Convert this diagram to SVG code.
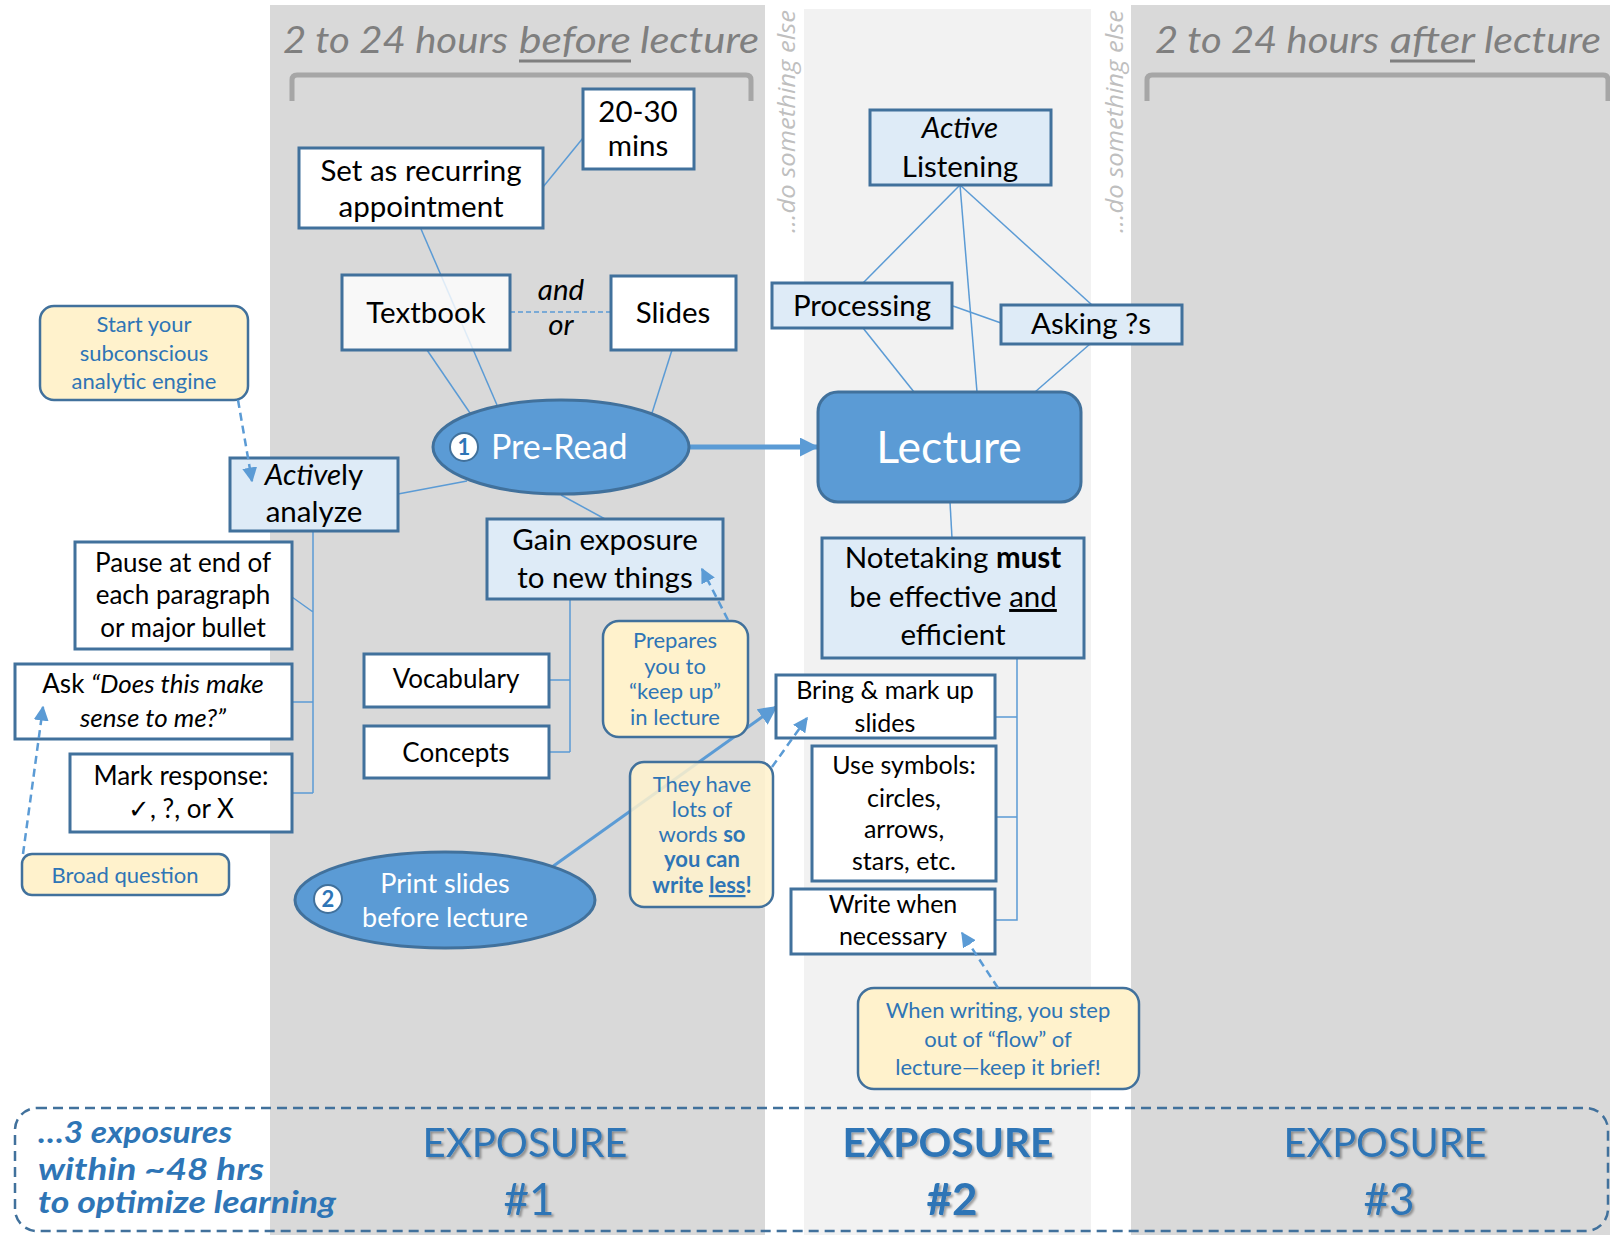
<svg xmlns="http://www.w3.org/2000/svg" width="1610" height="1235" viewBox="0 0 1610 1235">
<defs>
<style>
text{font-family:Lato,"Liberation Sans",sans-serif;}
.box{stroke:#41719c;stroke-width:3;}
.w{fill:#ffffff}
.lb{fill:#deebf7}
.note{fill:#fff2cc;stroke:#41719c;stroke-width:2.5}
.t{font-size:29.5px;fill:#000;text-anchor:middle}
.s{font-size:26px;fill:#000;text-anchor:middle}
.k{font-size:25px;fill:#000;text-anchor:middle}
.nt{font-size:22px;fill:#2e75b6;text-anchor:middle}
.ln{stroke:#5b9bd5;stroke-width:1.5;fill:none}
.dash{stroke:#5b9bd5;stroke-width:2.5;stroke-dasharray:8 5;fill:none}
.hdr{font-size:36px;font-style:italic;fill:#7f7f7f}
.side{font-family:"Open Sans",sans-serif;font-size:24px;font-style:italic;fill:#bfbfbf}
.exp{font-size:40px;fill:#2e75b6;text-anchor:middle}
.hash{font-size:44px;fill:#2e75b6;text-anchor:middle}
.bubble{fill:#5b9bd5;stroke:#41719c;stroke-width:3}
.wt{fill:#fff;text-anchor:middle}
.num{fill:#fff;stroke:#41719c;stroke-width:2}
.numt{font-size:22px;font-weight:bold;fill:#2e75b6;text-anchor:middle}
.hand{font-size:30px;font-style:italic;font-weight:bold;fill:#2e75b6}
</style>
<marker id="ah" viewBox="0 0 10 10" refX="9" refY="5" markerUnits="userSpaceOnUse" markerWidth="15" markerHeight="15" orient="auto">
<path d="M0,0 L10,5 L0,10 z" fill="#5b9bd5"/>
</marker>
<marker id="ahb" viewBox="0 0 10 10" refX="9" refY="5" markerUnits="userSpaceOnUse" markerWidth="19" markerHeight="19" orient="auto">
<path d="M0,0 L10,5 L0,10 z" fill="#5b9bd5"/>
</marker>
<filter id="shadow" x="-10%" y="-20%" width="130%" height="150%">
<feDropShadow dx="2" dy="2" stdDeviation="1.2" flood-color="#000" flood-opacity="0.35"/>
</filter>
</defs>

<!-- time bands -->
<g id="bands">
<rect x="270" y="5" width="495" height="1230" fill="#d9d9d9"/>
<rect x="804" y="9" width="287" height="1226" fill="#f2f2f2"/>
<rect x="1131" y="5" width="479" height="1230" fill="#d9d9d9"/>
<text class="side" transform="translate(795,233) rotate(-90)" textLength="223" lengthAdjust="spacingAndGlyphs">…do something else</text>
<text class="side" transform="translate(1123,233) rotate(-90)" textLength="223" lengthAdjust="spacingAndGlyphs">…do something else</text>
</g>

<!-- period headers -->
<g id="headers">
<text class="hdr" x="283" y="53" textLength="225" lengthAdjust="spacingAndGlyphs">2 to 24 hours</text>
<text class="hdr" x="519" y="53" textLength="112" lengthAdjust="spacingAndGlyphs">before</text>
<text class="hdr" x="640" y="53" textLength="119" lengthAdjust="spacingAndGlyphs">lecture</text>
<line x1="519" y1="61" x2="631" y2="61" stroke="#7f7f7f" stroke-width="3"/>
<path d="M292,101 V80 Q292,75 297,75 H746 Q751,75 751,80 V101" fill="none" stroke="#a6a6a6" stroke-width="5"/>
<text class="hdr" x="1155" y="53" textLength="224" lengthAdjust="spacingAndGlyphs">2 to 24 hours</text>
<text class="hdr" x="1390" y="53" textLength="85" lengthAdjust="spacingAndGlyphs">after</text>
<text class="hdr" x="1484" y="53" textLength="117" lengthAdjust="spacingAndGlyphs">lecture</text>
<line x1="1390" y1="61" x2="1475" y2="61" stroke="#7f7f7f" stroke-width="3"/>
<path d="M1147,101 V80 Q1147,75 1152,75 H1603 Q1608,75 1608,80 V101" fill="none" stroke="#a6a6a6" stroke-width="5"/>
</g>

<!-- tree connectors, drawn beneath the boxes -->
<g id="connectors">
<line class="ln" x1="583" y1="138" x2="543" y2="187"/>
<line class="ln" x1="421" y1="229" x2="497" y2="405"/>
<line class="ln" x1="427" y1="350" x2="470" y2="413"/>
<line class="ln" x1="672" y1="350" x2="652" y2="413"/>
<line x1="510" y1="312" x2="611" y2="312" stroke="#5b9bd5" stroke-width="1.5" stroke-dasharray="5 3"/>
<line class="ln" x1="398" y1="494" x2="467" y2="481"/>
<line class="ln" x1="561" y1="495" x2="605" y2="519"/>
<path class="ln" d="M570,599 V752 M549,680 H570 M549,752 H570"/>
<path class="ln" d="M313,531 V793 M292,597 L313,612 M292,702 H313 M292,793 H313"/>
<line class="ln" x1="960" y1="185" x2="863" y2="283"/>
<line class="ln" x1="960" y1="185" x2="977" y2="392"/>
<line class="ln" x1="960" y1="185" x2="1092" y2="305"/>
<line class="ln" x1="953" y1="306" x2="1001" y2="323"/>
<line class="ln" x1="863" y1="328" x2="914" y2="392"/>
<line class="ln" x1="1090" y1="344" x2="1035" y2="392"/>
<line class="ln" x1="950" y1="502" x2="952" y2="538"/>
<path class="ln" d="M1017,658 V920 H996 M996,717 H1017 M996,817 H1017"/>
<line x1="689" y1="447" x2="817" y2="447" stroke="#5b9bd5" stroke-width="5" marker-end="url(#ahb)"/>
<line x1="552" y1="867" x2="776" y2="707" stroke="#5b9bd5" stroke-width="3" marker-end="url(#ahb)"/>
</g>

<!-- before lecture -->
<g id="n-2030">
<rect class="box w" x="583" y="89" width="111" height="80"/>
<text class="t" x="638" y="122" font-size="27">20-30</text>
<text class="t" x="638" y="156" font-size="27">mins</text>
</g>
<g id="n-recurring">
<rect class="box w" x="299" y="148" width="244" height="80"/>
<text class="t" x="421" y="181">Set as recurring</text>
<text class="t" x="421" y="217">appointment</text>
</g>
<g id="n-textbook">
<rect class="box" x="342" y="275" width="168" height="75" fill="#ffffff" fill-opacity="0.8"/>
<text class="t" x="426" y="323">Textbook</text>
</g>
<g id="n-slides">
<rect class="box w" x="611" y="276" width="125" height="74"/>
<text class="t" x="673" y="323">Slides</text>
</g>
<g id="n-andor">
<text class="t" x="561" y="300" font-style="italic" font-size="26">and</text>
<text class="t" x="561" y="335" font-style="italic" font-size="26">or</text>
</g>
<g id="n-start">
<rect class="note" x="40" y="306" width="208" height="94" rx="14"/>
<text class="nt" x="144" y="332">Start your</text>
<text class="nt" x="144" y="361">subconscious</text>
<text class="nt" x="144" y="389">analytic engine</text>
</g>
<g id="n-preread">
<ellipse class="bubble" cx="561" cy="447" rx="128" ry="47"/>
<circle class="num" cx="464" cy="447" r="14"/>
<text class="numt" x="464" y="455">1</text>
<text x="491" y="459" font-size="34" fill="#fff">Pre-Read</text>
</g>
<g id="n-actively">
<rect class="box lb" x="230" y="458" width="168" height="73"/>
<text class="t" x="314" y="485"><tspan font-style="italic">Active</tspan>ly</text>
<text class="t" x="314" y="522">analyze</text>
</g>
<g id="n-gain">
<rect class="box lb" x="487" y="519" width="236" height="80"/>
<text class="t" x="605" y="550">Gain exposure</text>
<text class="t" x="605" y="588">to new things</text>
</g>
<g id="n-vocab">
<rect class="box w" x="364" y="654" width="185" height="53"/>
<text class="s" x="456" y="688">Vocabulary</text>
</g>
<g id="n-concepts">
<rect class="box w" x="364" y="726" width="185" height="52"/>
<text class="s" x="456" y="762">Concepts</text>
</g>
<g id="n-pause">
<rect class="box w" x="75" y="542" width="217" height="107"/>
<text class="s" x="183" y="572">Pause at end of</text>
<text class="s" x="183" y="604">each paragraph</text>
<text class="s" x="183" y="637">or major bullet</text>
</g>
<g id="n-ask">
<rect class="box w" x="15" y="664" width="277" height="75"/>
<text class="s" x="153" y="693" font-size="27">Ask <tspan font-style="italic">“Does this make</tspan></text>
<text class="s" x="153" y="727" font-size="27" font-style="italic">sense to me?”</text>
</g>
<g id="n-mark">
<rect class="box w" x="70" y="754" width="222" height="78"/>
<text class="s" x="181" y="785">Mark response:</text>
<text class="s" x="181" y="818">✓, ?, or X</text>
</g>
<g id="n-broad">
<rect class="note" x="22" y="854" width="207" height="41" rx="10"/>
<text class="nt" x="125" y="883">Broad question</text>
</g>
<g id="n-prepares">
<rect class="note" x="603" y="621" width="145" height="116" rx="16"/>
<text class="nt" x="675" y="648" font-size="19.5">Prepares</text>
<text class="nt" x="675" y="674" font-size="19.5">you to</text>
<text class="nt" x="675" y="699" font-size="19.5">“keep up”</text>
<text class="nt" x="675" y="725" font-size="19.5">in lecture</text>
</g>
<g id="n-print">
<ellipse class="bubble" cx="445" cy="900" rx="150" ry="48"/>
<circle class="num" cx="328" cy="899" r="14"/>
<text class="numt" x="328" y="907">2</text>
<text class="wt" x="445" y="893" font-size="27">Print slides</text>
<text class="wt" x="445" y="927" font-size="27">before lecture</text>
</g>
<g id="n-wordy">
<rect class="note" x="630" y="762" width="143" height="145" rx="14" fill-opacity="0.85"/>
<text class="nt" x="702" y="792" font-size="18.5">They have</text>
<text class="nt" x="702" y="817" font-size="18.5">lots of</text>
<text class="nt" x="702" y="842" font-size="18.5">words <tspan font-weight="bold">so</tspan></text>
<text class="nt" x="702" y="867" font-size="18.5" font-weight="bold">you can</text>
<text class="nt" x="702" y="893" font-size="18.5" font-weight="bold">write <tspan text-decoration="underline">less</tspan>!</text>
</g>

<!-- lecture -->
<g id="n-active-listening">
<rect class="box lb" x="870" y="110" width="181" height="75"/>
<text class="t" x="960" y="138" font-style="italic">Active</text>
<text class="t" x="960" y="177">Listening</text>
</g>
<g id="n-processing">
<rect class="box lb" x="772" y="283" width="180" height="45"/>
<text class="t" x="862" y="316">Processing</text>
</g>
<g id="n-asking">
<rect class="box lb" x="1001" y="305" width="181" height="39"/>
<text class="t" x="1091" y="334">Asking ?s</text>
</g>
<g id="n-lecture">
<rect class="bubble" x="818" y="392" width="263" height="110" rx="20"/>
<text class="wt" x="949" y="463" font-size="44.5">Lecture</text>
</g>
<g id="n-notetaking">
<rect class="box lb" x="822" y="538" width="262" height="120"/>
<text class="t" x="953" y="568">Notetaking <tspan font-weight="bold">must</tspan></text>
<text class="t" x="953" y="607">be effective <tspan text-decoration="underline">and</tspan></text>
<text class="t" x="953" y="645">efficient</text>
</g>
<g id="n-bring">
<rect class="box w" x="776" y="675" width="219" height="63"/>
<text class="k" x="885" y="699">Bring &amp; mark up</text>
<text class="k" x="885" y="732">slides</text>
</g>
<g id="n-symbols">
<rect class="box w" x="812" y="746" width="184" height="135"/>
<text class="k" x="904" y="774">Use symbols:</text>
<text class="k" x="904" y="807">circles,</text>
<text class="k" x="904" y="838">arrows,</text>
<text class="k" x="904" y="870">stars, etc.</text>
</g>
<g id="n-write">
<rect class="box w" x="791" y="889" width="204" height="65"/>
<text class="k" x="893" y="913">Write when</text>
<text class="k" x="893" y="945">necessary</text>
</g>
<g id="n-brief">
<rect class="note" x="858" y="988" width="281" height="101" rx="16"/>
<text class="nt" x="998" y="1018">When writing, you step</text>
<text class="nt" x="998" y="1047">out of “flow” of</text>
<text class="nt" x="998" y="1075">lecture—keep it brief!</text>
</g>

<!-- callout pointers, drawn over the boxes -->
<g id="callout-arrows">
<line class="dash" x1="238" y1="400" x2="252" y2="481" marker-end="url(#ah)"/>
<line class="dash" x1="23" y1="854" x2="43" y2="707" marker-end="url(#ah)"/>
<line class="dash" x1="728" y1="620" x2="702" y2="569" marker-end="url(#ah)"/>
<line class="dash" x1="772" y1="767" x2="807" y2="718" marker-end="url(#ah)"/>
<line class="dash" x1="998" y1="988" x2="962" y2="933" marker-end="url(#ah)"/>
</g>

<!-- exposure summary -->
<g id="n-exposures">
<rect x="15" y="1108" width="1593" height="123" rx="22" fill="none" stroke="#41719c" stroke-width="2.5" stroke-dasharray="10 6"/>
<text class="hand" x="38" y="1143" textLength="194" lengthAdjust="spacingAndGlyphs">…3 exposures</text>
<text class="hand" x="38" y="1180" textLength="226" lengthAdjust="spacingAndGlyphs">within ~48 hrs</text>
<text class="hand" x="38" y="1213" textLength="298" lengthAdjust="spacingAndGlyphs">to optimize learning</text>
<g filter="url(#shadow)">
<text class="exp" x="525" y="1157" textLength="205" lengthAdjust="spacingAndGlyphs">EXPOSURE</text>
<text class="hash" x="529" y="1215">#1</text>
<text class="exp" x="948" y="1157" font-weight="bold" textLength="211" lengthAdjust="spacingAndGlyphs">EXPOSURE</text>
<text class="hash" x="952" y="1215" font-weight="bold">#2</text>
<text class="exp" x="1385" y="1157" textLength="203" lengthAdjust="spacingAndGlyphs">EXPOSURE</text>
<text class="hash" x="1389" y="1215">#3</text>
</g>
</g>
</svg>
